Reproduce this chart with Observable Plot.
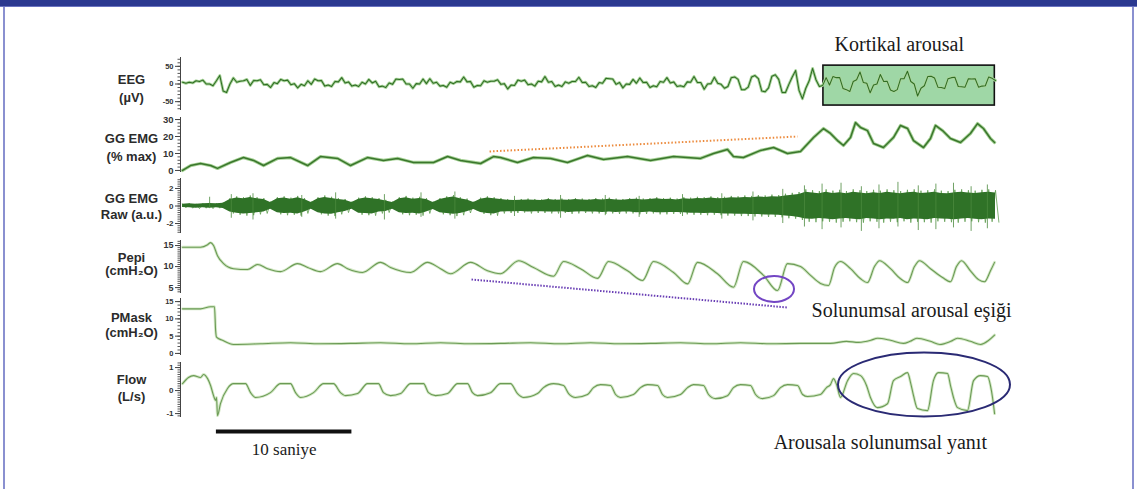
<!DOCTYPE html>
<html><head><meta charset="utf-8">
<script src="https://cdn.jsdelivr.net/npm/d3@7"></script>
<script src="https://cdn.jsdelivr.net/npm/@observablehq/plot@0.6"></script>
<style>
html,body{margin:0;padding:0;background:#fff;}
#page{position:relative;width:1137px;height:489px;overflow:hidden;background:#fff;}
#topbar{position:absolute;left:0;top:0;width:1137px;height:6px;background:#2b3990;border-bottom:1px solid #6a73c0;}
#lb{position:absolute;left:3px;top:7px;width:2px;height:482px;background:#8a90d0;}
#rb{position:absolute;left:1132px;top:7px;width:2px;height:482px;background:#8a90d0;}
.panel{position:absolute;left:0;}
.panel svg{overflow:visible;}
</style></head><body>
<div id="page"><div id="topbar"></div><div id="lb"></div><div id="rb"></div></div>
<script>
// ---------- DATA (time in seconds) ----------
const eegDt = 0.25;
const eegValues = [
 5,2,5,3,9,7,11,0,0,-5,9,24,-20,-24,0,17,5,8,9,13,
 -4,10,9,12,-2,-1,-10,4,1,13,9,11,-2,1,-11,-1,-5,9,-1,14,
 9,10,-6,-3,-7,7,6,18,3,6,-6,-3,-7,5,0,13,3,8,-8,-6,
 -10,3,-1,14,13,14,0,0,-12,1,0,14,1,15,2,5,-6,-4,-9,5,
 1,7,6,20,6,7,-9,-4,-5,9,5,8,8,12,-1,1,-14,-3,-4,11,
 8,11,-2,0,-6,8,6,21,5,7,-7,-3,-7,6,2,7,7,19,4,5,
 -7,-5,-10,4,2,16,15,14,-1,4,-11,0,-1,13,2,17,4,5,-10,-5,
 -8,7,5,18,3,6,-7,-5,-8,6,5,21,4,4,-15,0,1,19,2,-1,
 -12,-7,18,20,13,-16,-16,-9,20,24,15,-20,-22,-11,22,26,13,-24,-24,-1,
 20,38,-18,-42,-12,9,44,12,-7,-4,
 18,-3,21,18,18,-13,-16,-21,7,12,34,4,2,-25,-3,0,27,7,8,-17,
 -21,-16,15,15,36,7,0,-34,-12,-5,21,22,17,-9,-10,-13,15,18,19,-7,
 -8,-9,15,14,15,-9,-6,-5,20,16,10
];

const ggT = [0,0.59,1.33,2.07,2.58,3.54,4.50,5.24,5.98,7.01,7.97,9.23,10.18,11.44,12.40,13.65,14.83,15.87,17.05,18.52,19.56,20.52,22.0,22.95,23.47,24.72,25.90,27.16,28.41,29.89,31.07,32.84,34.54,36.24,38.23,39.19,40.22,40.66,41.40,42.66,43.62,44.65,45.61,46.57,47.31,47.82,48.34,48.78,49.30,49.67,50.04,50.55,51.00,51.73,52.47,52.99,53.51,53.95,54.69,55.20,55.57,56.09,56.68,57.42,58.15,58.67,59.11,59.63,59.93];
const ggV = [0,2.9,4.1,2.9,1.2,4.7,7.6,5.9,2.9,7.1,7.6,2.9,8.2,7.1,2.9,7.6,5.9,7.1,4.7,4.7,8.2,5.9,4.1,8.2,7.6,4.7,7.6,7.1,4.7,8.8,6.5,8.2,5.9,8.2,7.1,10.0,12.4,8.2,7.6,11.8,13.5,10.0,11.2,19.4,24.7,21.8,17.6,14.7,19.4,28.2,25.3,23.5,15.9,13.5,19.4,26.5,24.7,17.6,13.5,18.8,26.5,23.5,18.8,16.5,21.8,27.6,24.7,18.8,16.5];

const rawDt = 0.5;
const rawHi = [0.25,0.3,0.25,0.3,0.35,0.3,0.4,0.9,1.1,1.0,
 1.2,1.0,0.9,0.5,1.0,1.1,0.95,1.15,0.9,0.5,
 1.0,1.2,1.05,0.9,0.8,0.5,0.95,1.1,1.0,0.9,
 0.7,0.5,1.0,1.15,0.95,1.05,0.9,0.5,0.9,1.1,
 1.25,1.0,0.85,0.5,0.95,1.1,1.0,0.9,0.8,0.75,
 0.8,0.85,0.8,0.75,0.9,0.8,0.85,0.8,0.9,0.85,
 0.8,0.9,0.85,0.95,0.85,0.8,0.9,0.95,0.85,0.9,
 1.0,0.9,0.95,0.85,1.0,0.95,1.05,1.0,1.1,1.0,
 1.05,1.15,1.1,1.2,1.15,1.25,1.2,1.3,1.25,1.4,
 1.5,1.6,1.9,1.8,1.7,1.9,1.75,1.85,1.7,1.9,
 1.8,1.7,1.85,1.75,1.9,1.8,1.7,1.85,1.9,1.75,
 1.8,1.9,1.75,1.7,1.85,1.9,1.8,1.75,1.85,1.9,1.8];
const rawLo = [-0.2,-0.25,-0.3,-0.25,-0.3,-0.25,-0.35,-0.85,-1.0,-1.1,
 -1.05,-0.95,-0.85,-0.45,-0.95,-1.05,-1.0,-1.1,-0.85,-0.45,
 -0.95,-1.1,-1.15,-0.95,-0.75,-0.45,-1.0,-1.05,-1.1,-0.85,
 -0.75,-0.45,-0.95,-1.05,-1.0,-1.1,-0.85,-0.5,-0.95,-1.05,
 -1.15,-1.05,-0.8,-0.5,-0.9,-1.05,-1.1,-0.85,-0.8,-0.8,
 -0.75,-0.85,-0.8,-0.8,-0.85,-0.85,-0.8,-0.9,-0.85,-0.8,
 -0.85,-0.85,-0.9,-0.85,-0.9,-0.85,-0.85,-0.95,-0.9,-0.85,
 -0.95,-0.95,-0.9,-0.9,-0.95,-1.0,-1.0,-1.05,-1.0,-1.05,
 -1.1,-1.1,-1.15,-1.15,-1.2,-1.2,-1.25,-1.25,-1.3,-1.4,
 -1.45,-1.6,-1.8,-1.85,-1.75,-1.8,-1.9,-1.8,-1.75,-1.85,
 -1.9,-1.75,-1.8,-1.9,-1.8,-1.85,-1.75,-1.9,-1.8,-1.85,
 -1.9,-1.75,-1.8,-1.85,-1.9,-1.8,-1.75,-1.85,-1.9,-1.8,-1.85];
const spikeT = [2.0,3.6,5.2,8.8,11.3,14.9,17.6,20.1,24.5,27.9,31.2,33.7,36.9,39.8,42.1,44.3,45.9,47.2,48.6,50.1,51.4,52.8,54.3,55.6,56.9,58.2,59.4];
const spikeHi = [1.0,1.3,1.4,1.2,1.5,1.3,1.5,1.6,1.1,1.2,1.2,1.1,1.3,1.4,1.6,1.9,2.3,2.5,2.6,2.2,2.4,2.7,2.3,2.5,2.6,2.2,2.4];
const spikeLo = [-0.3,-1.4,-1.6,-1.3,-1.5,-1.6,-1.3,-1.5,-1.2,-1.4,-1.1,-1.3,-1.2,-1.5,-1.7,-2.0,-2.4,-2.7,-2.5,-2.9,-2.6,-2.4,-2.8,-2.7,-2.5,-2.9,-2.6];

const pepiT = [0,1.33,1.85,2.07,2.29,2.58,3.03,3.76,4.80,5.54,6.27,7.23,8.49,9.23,10.18,11.44,12.18,13.28,14.61,15.35,16.83,18.08,19.04,19.78,21.26,22.51,23.47,24.80,25.90,27.38,28.12,29.37,30.63,31.44,32.84,33.95,34.76,36.24,37.27,38.01,39.48,40.66,41.40,42.88,43.91,44.65,45.61,46.35,47.08,47.68,48.12,48.56,49.30,50.04,50.55,51.07,51.44,52.25,52.99,53.51,54.02,54.39,55.20,56.09,56.68,57.12,57.49,58.15,58.75,59.19,59.63,59.93];
const pepiV = [14.6,14.6,15.2,15.7,15.0,12.6,10.7,9.5,9.3,10.5,9.5,8.8,10.7,9.8,8.8,10.7,9.5,8.6,11.0,9.8,8.6,11.0,9.5,8.3,11.0,9.0,8.3,11.4,9.8,7.7,11.2,9.5,7.2,11.2,9.0,6.7,11.2,8.6,5.9,11.0,8.3,5.1,11.2,7.9,4.3,10.7,10.0,7.9,6.0,5.5,9.8,11.2,9.5,7.1,6.2,10.0,11.4,9.5,7.1,6.2,10.0,11.4,9.5,7.4,6.4,10.0,11.4,9.0,6.9,6.4,9.0,11.0];

const pmaskT = [0,1.33,2.07,2.36,2.44,2.51,2.95,3.76,5.76,7.97,10.18,12.40,14.61,16.83,19.04,21.26,23.47,25.68,27.90,30.11,32.32,34.54,36.75,38.97,41.18,43.39,45.61,47.82,49.0,49.9,50.8,51.3,52.25,53.2,53.7,54.2,55.2,55.9,56.7,57.2,58.15,58.9,59.5,59.93];
const pmaskV = [12.9,12.9,13.5,13.5,6.8,4.7,3.8,2.6,2.8,3.1,2.8,2.9,3.1,2.8,3.1,2.8,2.9,3.1,2.8,3.1,2.8,2.9,3.1,2.8,3.1,2.8,2.9,2.9,3.5,3.2,3.8,4.4,3.8,2.9,3.5,4.4,3.5,2.6,3.5,4.4,3.5,2.6,3.8,5.3];

const flowT = [0,0.44,0.81,1.33,1.55,1.85,2.07,2.29,2.44,2.51,2.58,2.80,3.32,3.76,4.65,5.02,5.39,6.49,7.23,7.97,8.34,8.71,9.67,10.41,11.14,11.66,12.03,12.92,13.65,14.46,14.83,15.35,16.09,16.83,17.79,18.15,18.67,19.56,20.30,21.03,21.40,21.77,22.73,23.47,24.21,24.72,25.17,26.20,26.64,27.38,28.12,28.49,29.0,29.89,30.33,30.85,31.59,31.96,32.32,33.28,33.80,34.32,35.06,35.42,35.79,36.75,37.27,37.71,38.45,38.82,39.34,40.22,40.66,41.18,41.92,42.29,42.80,43.62,44.13,44.65,45.39,45.76,46.13,47.08,47.53,47.82,48.04,48.27,48.56,49.08,49.52,50.04,50.48,50.77,51.29,52.03,52.47,52.99,53.51,53.73,53.95,54.24,54.98,55.42,55.79,56.46,56.68,56.90,57.20,57.93,58.38,58.89,59.41,59.63,59.78,59.93];
const flowV = [0.30,0.57,0.65,0.57,0.70,0.52,0.22,-0.22,-0.43,-0.30,-1.09,-0.57,0.09,0.30,0.30,-0.09,-0.30,-0.09,0.30,0.30,-0.09,-0.30,-0.09,0.30,0.30,-0.09,-0.22,-0.13,0.30,0.30,-0.09,-0.22,-0.13,0.30,0.30,-0.09,-0.22,-0.13,0.30,0.30,-0.09,-0.22,-0.09,0.30,0.30,-0.13,-0.30,-0.13,0.13,0.30,0.22,-0.13,-0.30,-0.17,0.13,0.26,0.22,-0.17,-0.30,-0.17,0.13,0.26,0.22,-0.17,-0.30,-0.17,0.13,0.26,0.22,-0.17,-0.35,-0.22,0.13,0.26,0.22,-0.17,-0.35,-0.22,0.13,0.26,0.22,-0.17,-0.26,-0.17,0.13,0.26,0.52,0.26,-0.30,0.43,0.74,0.65,0.22,-0.30,-0.74,-0.57,0.43,0.61,0.78,0.35,-0.22,-0.78,-0.87,0.43,0.78,0.74,0.22,-0.30,-0.74,-0.87,0.43,0.65,0.61,0.22,-0.30,-1.0];

// tick labels
const eegTicks = [-50, 0, 50];
const ggTicks = [0, 10, 20, 30];
const rawTicks = [-2, 0, 2];
const pepiTicks = [5, 10, 15];
const pmaskTicks = [0, 5, 10, 15];
const flowTicks = [-1, 0, 1];

// channel labels
const labels = ["EEG\n(µV)", "GG EMG\n(% max)", "GG EMG\nRaw (a.u.)", "Pepi\n(cmH₂O)", "PMask\n(cmH₂O)", "Flow\n(L/s)"];

// annotations (data units)
const arousalBox = {x1: 47.3, x2: 59.95, y1: -61, y2: 52};
const emgTrend = {x1: 22.66, y1: 11.2, x2: 45.39, y2: 20.0};
const pepiTrend = {x1: 21.33, y1: 6.93, x2: 44.65, y2: 0.27};
const pepiCircle = {t: 43.69, v: 4.55};
const flowCircle = {t: 54.76, v: 0.24};
const scaleBar = {x1: 2.5, x2: 12.5, y: -1.78};
const texts = {
  kortikal: {t: 52.9, v: 94.8, s: "Kortikal arousal"},
  esik: {t: 53.8, v: -1.87, s: "Solunumsal arousal eşiği"},
  yanit: {t: 51.5, v: -2.52, s: "Arousala solunumsal yanıt"},
  saniye: {t: 7.5, v: -2.82, s: "10 saniye"}
};

// ---------- BUILD ----------
const page = document.getElementById("page");
const X_DOMAIN = [-0.15, 60];
const SANS = "'Liberation Sans', Arial, sans-serif";
const SERIF = "'Liberation Serif', 'Times New Roman', serif";
const toRows = (T, V) => T.map((t, i) => ({t, v: V[i]}));
const eegData = eegValues.map((v, i) => ({t: i * eegDt, v}));
const rawData = rawHi.map((h, i) => ({t: i * rawDt, hi: h, lo: rawLo[i]}));
// alternate each sample's upper and lower excursion to draw the raw signal's oscillation
const rawZig = rawHi.flatMap((h, i) => [{t: i * rawDt, v: h}, {t: i * rawDt + rawDt / 2, v: rawLo[i]}]);
const spikeData = spikeT.map((t, i) => ({t, hi: spikeHi[i], lo: spikeLo[i]}));

function ellipse(c, rx, ry, color) {
  return (index, scales) => {
    const el = document.createElementNS("http://www.w3.org/2000/svg", "ellipse");
    el.setAttribute("cx", scales.x(c.t));
    el.setAttribute("cy", scales.y(c.v));
    el.setAttribute("rx", rx);
    el.setAttribute("ry", ry);
    el.setAttribute("fill", "none");
    el.setAttribute("stroke", color);
    el.setAttribute("stroke-width", 2);
    return el;
  };
}
function serifText(o, extra = {}) {
  return Plot.text([o], {x: "t", y: "v", text: d => d.s, fontFamily: SERIF, fontSize: 20, fontWeight: "normal", fill: "#1a1a1a", lineAnchor: "bottom", ...extra});
}
function trace(data, color, halo, w, curve) {
  return [
    Plot.line(data, {x: "t", y: "v", stroke: halo, strokeWidth: w + 1.8, curve}),
    Plot.line(data, {x: "t", y: "v", stroke: color, strokeWidth: w, curve})
  ];
}

function panel(cfg) {
  const h = cfg.bottom - cfg.top;
  const svg = Plot.plot({
    width: 1137, height: h,
    marginLeft: 180, marginRight: 142, marginTop: 0, marginBottom: 0,
    x: {domain: X_DOMAIN, axis: null},
    y: {domain: cfg.domain, label: null},
    style: {overflow: "visible", background: "transparent", fontFamily: SANS, color: "#333"},
    marks: [
      ...cfg.under,
      Plot.axisY({ticks: cfg.minor, tickSize: 2.5, tickFormat: () => "", label: null, stroke: "#555"}),
      Plot.axisY({ticks: cfg.major, tickSize: 5, tickPadding: 2, tickFormat: d => String(d), label: null,
                  fontSize: cfg.fs, fontWeight: "bold", fill: "#333", stroke: "#444"}),
      Plot.ruleX([X_DOMAIN[0]], {stroke: "#444", strokeWidth: 1}),
      Plot.text([cfg.label], {text: d => d, frameAnchor: "left", dx: -49, dy: cfg.ldy, fontSize: 13,
                 fontWeight: "bold", fill: "#2b2b2b", lineHeight: cfg.lh, textAnchor: "middle", fontFamily: SANS}),
      ...cfg.marks
    ]
  });
  const div = document.createElement("div");
  div.className = "panel";
  div.style.top = cfg.top + "px";
  div.appendChild(svg);
  page.appendChild(div);
}

// EEG
panel({top: 57, bottom: 110, domain: [-75, 75], major: eegTicks, minor: d3.range(-70, 71, 10), fs: 7.5,
  label: labels[0], lh: 1.4, ldy: 3,
  under: [Plot.rect([arousalBox], {x1: "x1", x2: "x2", y1: "y1", y2: "y2", fill: "#9fd7a6", stroke: "#111", strokeWidth: 1.6})],
  marks: [...trace(eegData, "#2f6d23", "#a9d49b", 1.05, "linear"), serifText(texts.kortikal)]});

// GG EMG % max
panel({top: 117, bottom: 172, domain: [-1.2, 31.2], major: ggTicks, minor: d3.range(0, 31, 2), fs: 9.5,
  label: labels[1], lh: 1.38, ldy: 1.5, under: [],
  marks: [
    Plot.link([emgTrend], {x1: "x1", y1: "y1", x2: "x2", y2: "y2", stroke: "#ec8a3c", strokeWidth: 2, strokeDasharray: "1.5,2"}),
    ...trace(toRows(ggT, ggV), "#3a762c", "#a6d296", 1.5, "linear")
  ]});

// GG EMG raw
panel({top: 178, bottom: 233, domain: [-3.14, 3.14], major: rawTicks, minor: d3.range(-3, 3.01, 0.25), fs: 8,
  label: labels[2], lh: 1.25, ldy: 0, under: [],
  marks: [
    Plot.line(rawZig, {x: "t", y: "v", stroke: "#5f9d50", strokeWidth: 0.8}),
    Plot.areaY(rawData, {x: "t", y1: d => d.lo * 0.82, y2: d => d.hi * 0.82, fill: "#2f7227"}),
    Plot.ruleX(spikeData, {x: "t", y1: "lo", y2: "hi", stroke: "#4b8a3d", strokeWidth: 0.8})
  ]});

// Pepi
panel({top: 240, bottom: 293, domain: [3.6, 16.2], major: pepiTicks, minor: d3.range(4, 16.01, 0.5), fs: 9,
  label: labels[3], lh: 1.0, ldy: -3, under: [],
  marks: [
    Plot.link([pepiTrend], {x1: "x1", y1: "y1", x2: "x2", y2: "y2", stroke: "#6a3fb5", strokeWidth: 2, strokeDasharray: "1.5,1.5"}),
    ...trace(toRows(pepiT, pepiV), "#6b9a55", "#d3e8c6", 1.1, "monotone-x"),
    ellipse(pepiCircle, 20, 13, "#7346c4"),
    serifText(texts.esik)
  ]});

// PMask
panel({top: 298, bottom: 355, domain: [-0.6, 15.9], major: pmaskTicks, minor: d3.range(0, 15.01, 1), fs: 7.5,
  label: labels[4], lh: 1.15, ldy: -2, under: [],
  marks: [...trace(toRows(pmaskT, pmaskV), "#6b9a55", "#d3e8c6", 1.1, "monotone-x")]});

// Flow
panel({top: 362, bottom: 417, domain: [-1.17, 1.22], major: flowTicks, minor: d3.range(-1.1, 1.21, 0.1), fs: 8,
  label: labels[5], lh: 1.3, ldy: -2.5, under: [],
  marks: [
    ...trace(toRows(flowT, flowV), "#6b9a55", "#d3e8c6", 1.1, "monotone-x"),
    ellipse(flowCircle, 86, 32, "#2a2a74"),
    Plot.ruleY([scaleBar], {y: "y", x1: "x1", x2: "x2", stroke: "#111", strokeWidth: 4}),
    serifText(texts.yanit),
    serifText(texts.saniye, {fontSize: 17})
  ]});
</script></body></html>
